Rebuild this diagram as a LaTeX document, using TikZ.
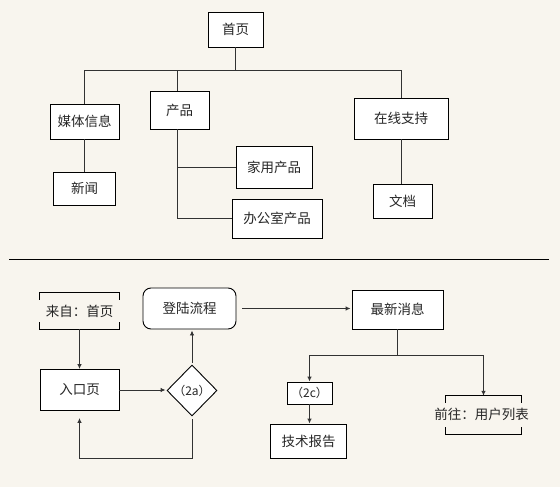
\documentclass[tikz,border=0pt]{standalone}
\usepackage{fontspec}
\newfontfamily\cjk{Noto Sans CJK SC}
\usetikzlibrary{shapes.geometric,arrows.meta}
\definecolor{bg}{RGB}{248,245,238}
\definecolor{ln}{RGB}{50,50,50}
\begin{document}
\begin{tikzpicture}[x=1pt,y=-1pt,
  txt/.style={font=\cjk\fontsize{13.5}{15}\selectfont, text=black!85},
  box/.style={txt, draw=black, fill=white, line width=0.9pt, inner sep=0pt},
  rbox/.style={box, rounded corners=8pt},
  bracketnode/.style={txt, inner sep=0pt},
  bracketline/.style={draw=black, line width=0.9pt},
  dia/.style={box, diamond, aspect=1, inner sep=0pt, font=\cjk\fontsize{12}{13}\selectfont},
  conn/.style={draw=ln, line width=0.9pt},
  arr/.style={conn, -{Latex[length=5pt,width=4.5pt]}}]
\fill[bg] (0,0) rectangle (560,487);
\useasboundingbox (0,0) rectangle (560,487);

% ---------- top tree ----------
\node[box, minimum width=55pt, minimum height=35pt] (home) at (235.5,29.5) {首页};
\node[box, minimum width=69pt, minimum height=35pt] (media) at (84.5,121.5) {媒体信息};
\node[box, minimum width=62pt, minimum height=33pt] (news) at (84.5,188.5) {新闻};
\node[box, minimum width=59pt, minimum height=38pt] (prod) at (179.5,110) {产品};
\node[box, minimum width=76pt, minimum height=42pt] (hprod) at (274,167) {家用产品};
\node[box, minimum width=90pt, minimum height=39pt] (oprod) at (277,218.5) {办公室产品};
\node[box, minimum width=94pt, minimum height=41pt] (support) at (401,118.5) {在线支持};
\node[box, minimum width=59pt, minimum height=34pt] (doc) at (402.5,201) {文档};

\coordinate (bus) at (0,70);
\coordinate (ptop) at (177,91);
\coordinate (pbot) at (177,129);
\draw[conn] (home.south) -- (home.south |- bus);
\draw[conn] (media.north) -- (media.north |- bus) -- (support.north |- bus) -- (support.north);
\draw[conn] (ptop) -- (ptop |- bus);
\draw[conn] (pbot) -- (pbot |- oprod.west) -- (oprod.west);
\draw[conn] (pbot |- hprod.west) -- (hprod.west);
\draw[conn] (media.south) -- (media.south |- news.north);
\draw[conn] (support.south) -- (support.south |- doc.north);

% ---------- divider ----------
\coordinate (divL) at (9,259);
\coordinate (divR) at (549,259);
\draw[draw=black, line width=0.9pt] (divL) -- (divR);

% ---------- bottom flow ----------
\node[bracketnode, minimum width=79pt, minimum height=36pt] (from) at (79.5,311) {来自：首页};
\draw[bracketline] ([yshift=-7pt]from.north west) -- (from.north west) -- (from.north east) -- ([yshift=-7pt]from.north east);
\draw[bracketline] ([yshift=7pt]from.south west) -- (from.south west) -- (from.south east) -- ([yshift=7pt]from.south east);

\node[rbox, minimum width=93pt, minimum height=41pt] (login) at (189.5,308.5) {登陆流程};
\node[box, minimum width=91pt, minimum height=39pt] (latest) at (397.5,309.5) {最新消息};
\node[box, minimum width=79pt, minimum height=41pt] (entry) at (79.5,390) {入口页};
\node[dia, minimum width=50pt, minimum height=51pt] (d2a) at (192,390.5) {（2a）};
\node[box, minimum width=45pt, minimum height=22pt, font=\cjk\fontsize{12}{14}\selectfont] (c2) at (309.5,393) {（2c）};
\node[box, minimum width=76pt, minimum height=34pt] (tech) at (308.5,441) {技术报告};

\node[minimum width=75pt, minimum height=38pt, inner sep=0pt] (goto) at (483.5,415) {};
\node[bracketnode] (gototext) at (481.5,414) {前往：用户列表};
\draw[bracketline] ([yshift=-7pt]goto.north west) -- (goto.north west) -- (goto.north east) -- ([yshift=-7pt]goto.north east);
\draw[bracketline] ([yshift=7pt]goto.south west) -- (goto.south west) -- (goto.south east) -- ([yshift=7pt]goto.south east);

\coordinate (loopY) at (0,458);
\coordinate (splitY) at (0,355);

\draw[arr] (from.south) -- (entry.north);
\draw[arr, shorten >=1pt] (entry.east) -- (entry.east -| d2a.west);
\draw[arr, shorten <=2pt, shorten >=1pt] (d2a.north) -- (d2a.north |- login.south);
\draw[arr, shorten <=3pt, shorten >=7pt] (d2a.south) -- (d2a.south |- loopY) -| (entry.south);
\draw[arr, shorten <=6pt, shorten >=1pt] (login.east) -- (login.east -| latest.west);
\draw[conn] (latest.south) -- (latest.south |- splitY);
\draw[arr] (latest.south |- splitY) -| (c2.north);
\draw[arr] (latest.south |- splitY) -| (goto.north);
\draw[arr] (c2.south) -- (c2.south |- tech.north);
\end{tikzpicture}
\end{document}
